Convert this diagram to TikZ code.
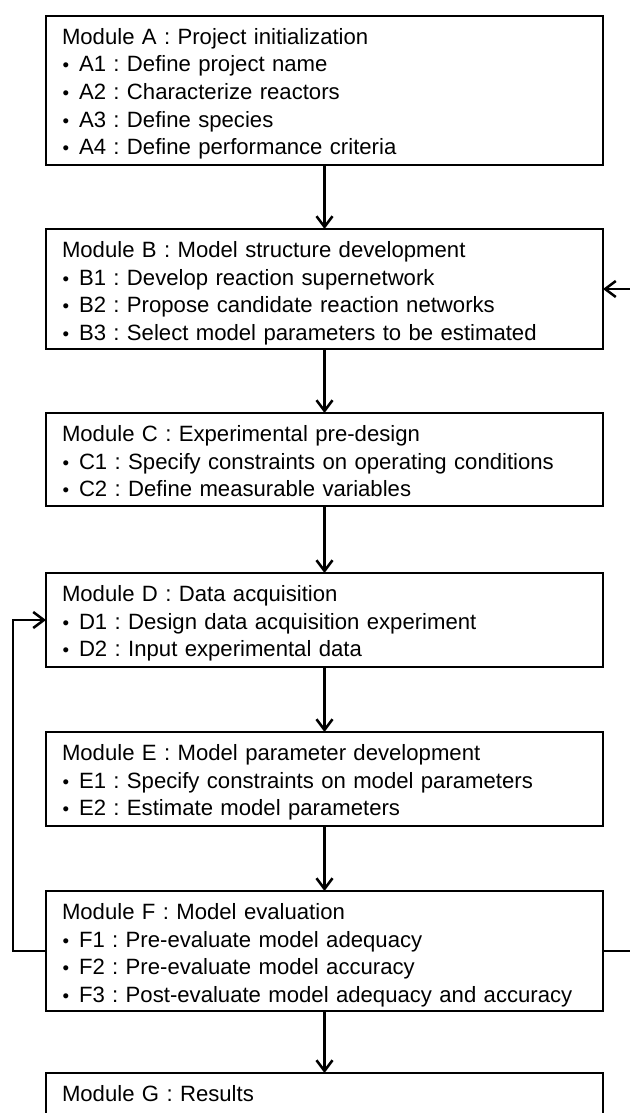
\documentclass[tikz,border=0pt]{standalone}
\usepackage{fontspec}
\setmainfont{Liberation Sans}
\usetikzlibrary{arrows.meta}
\newcommand\itm[1]{\mbox{\makebox[12.75pt][l]{\hspace{0.4pt}{\fontsize{14pt}{14pt}\selectfont •}}#1}}
\begin{document}
\frenchspacing
\begin{tikzpicture}[x=0.75pt,y=-0.75pt,
  modbox/.style={draw, line width=2.2pt, anchor=north west, outer sep=0pt,
    inner xsep=12pt, inner ysep=0pt, text width=393.75pt, align=left,
    text height=21.375pt, font=\frenchspacing\fontsize{16.6pt}{20.625pt}\selectfont},
  conn/.style={line width=1.9pt, -{Straight Barb[length=8pt,width=12pt]}}]
\useasboundingbox (0,0) rectangle (630,1113);
\fill[white] (0,0) rectangle (630,1113);
\clip (0,0) rectangle (630,1113);
\node[modbox, text depth=90.375pt] (A) at (46,16) {Module A : Project initialization\\
  \itm{A1 : Define project name}\\
  \itm{A2 : Characterize reactors}\\
  \itm{A3 : Define species}\\
  \itm{A4 : Define performance criteria}};
\node[modbox, text depth=68.625pt] (B) at (46,229) {Module B : Model structure development\\
  \itm{B1 : Develop reaction supernetwork}\\
  \itm{B2 : Propose candidate reaction networks}\\
  \itm{B3 : Select model parameters to be estimated}};
\node[modbox, text depth=48.375pt] (C) at (46,413) {Module C : Experimental pre-design\\
  \itm{C1 : Specify constraints on operating conditions}\\
  \itm{C2 : Define measurable variables}};
\node[modbox, text depth=49.125pt] (D) at (46,573) {Module D : Data acquisition\\
  \itm{D1 : Design data acquisition experiment}\\
  \itm{D2 : Input experimental data}};
\node[modbox, text depth=49.125pt] (E) at (46,732) {Module E : Model parameter development\\
  \itm{E1 : Specify constraints on model parameters}\\
  \itm{E2 : Estimate model parameters}};
\node[modbox, text depth=68.625pt] (F) at (46,891) {Module F : Model evaluation\\
  \itm{F1 : Pre-evaluate model adequacy}\\
  \itm{F2 : Pre-evaluate model accuracy}\\
  \itm{F3 : Post-evaluate model adequacy and accuracy}};
\node[modbox, text depth=120pt] (G) at (46,1073) {Module G : Results};
\draw[conn] (A.south) -- (B.north);
\draw[conn] (B.south) -- (C.north);
\draw[conn] (C.south) -- (D.north);
\draw[conn] (D.south) -- (E.north);
\draw[conn] (E.south) -- (F.north);
\draw[conn] (F.south) -- (G.north);
\draw[conn] (F.west) -- ++(-33,0) |- (D.west);
\draw[conn] (F.east) -- ++(60,0) |- (B.east);
\end{tikzpicture}
\end{document}
